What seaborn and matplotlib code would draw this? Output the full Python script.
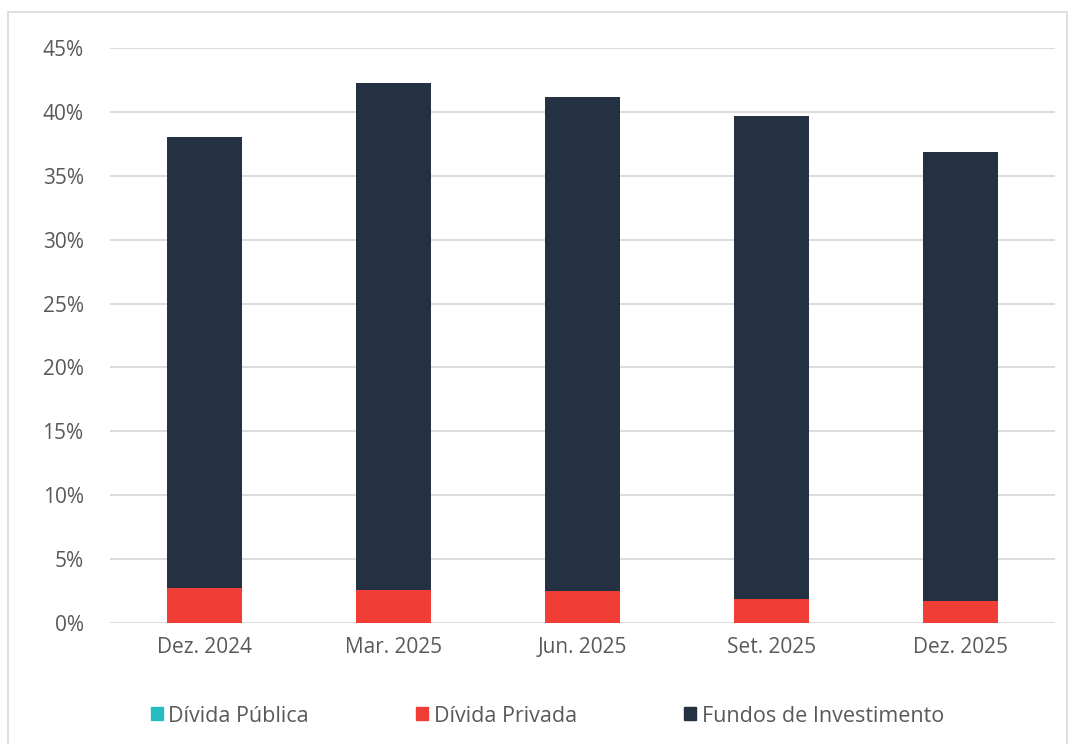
import pandas as pd
import matplotlib.pyplot as plt
import matplotlib.patches as mpatches
import seaborn as sns

periods = ['Dez. 2024', 'Mar. 2025', 'Jun. 2025', 'Set. 2025', 'Dez. 2025']
divida_publica = [0.0, 0.0, 0.0, 0.0, 0.0]
divida_privada = [2.75, 2.6, 2.5, 1.9, 1.75]
fundos = [35.25, 39.65, 38.65, 37.8, 35.1]

colors = {'Dívida Pública': '#26bdc1', 'Dívida Privada': '#f03e37', 'Fundos de Investimento': '#233142'}

df = pd.DataFrame({'Periodo': periods, 'Dívida Pública': divida_publica,
                   'Dívida Privada': divida_privada, 'Fundos de Investimento': fundos})

sns.set_style('white')
plt.rcParams['font.family'] = ['Open Sans', 'DejaVu Sans']
text_color = '#595959'

fig = plt.figure(figsize=(10.69, 7.44), dpi=100)
ax = fig.add_axes([110 / 1069, 1 - 623 / 744, 945 / 1069, 575 / 744])

# stacked bars: each layer drawn as the cumulative sum
bottom = [0.0] * len(periods)
for col in ['Dívida Pública', 'Dívida Privada', 'Fundos de Investimento']:
    heights = [b + v for b, v in zip(bottom, df[col])]
    sns.barplot(x=df['Periodo'], y=heights, color=colors[col], width=0.4,
                saturation=1, ax=ax, order=periods)
    bottom = heights

# seaborn draws later bars on top, so reverse the z-order for stacking
for i, cont in enumerate(ax.containers):
    for bar in cont:
        bar.set_zorder(5 - i)
        bar.set_edgecolor('none')

ax.set_ylim(0, 45)
ax.set_xlim(-0.5, 4.5)
ax.set_yticks(range(0, 50, 5))
ax.set_yticklabels([f'{v}%' for v in range(0, 50, 5)])
ax.yaxis.grid(True, color='#d9d9d9', linewidth=1.3, zorder=0)
ax.set_axisbelow(True)
for s in ax.spines.values():
    s.set_visible(False)
ax.tick_params(axis='both', length=0, labelsize=15, colors=text_color)
ax.tick_params(axis='y', pad=19)
ax.tick_params(axis='x', pad=10)
ax.set_xlabel('')
ax.set_ylabel('')

handles = [mpatches.Patch(color=colors[c], label=c) for c in colors]
fig.legend(handles=handles, loc='center', bbox_to_anchor=(0.512, 1 - 716 / 744), ncol=3,
           frameon=False, fontsize=15.5, labelcolor=text_color, handlelength=0.55,
           handleheight=0.55, handletextpad=0.25, columnspacing=5.0)

# light frame around the chart area
fig.patches.append(mpatches.Rectangle((8 / 1069, -0.01), 1059 / 1069, 1 - 12 / 744 + 0.01,
                                      transform=fig.transFigure, fill=False,
                                      edgecolor='#d9d9d9', linewidth=1.2))

fig.savefig('out.png', dpi=100)
